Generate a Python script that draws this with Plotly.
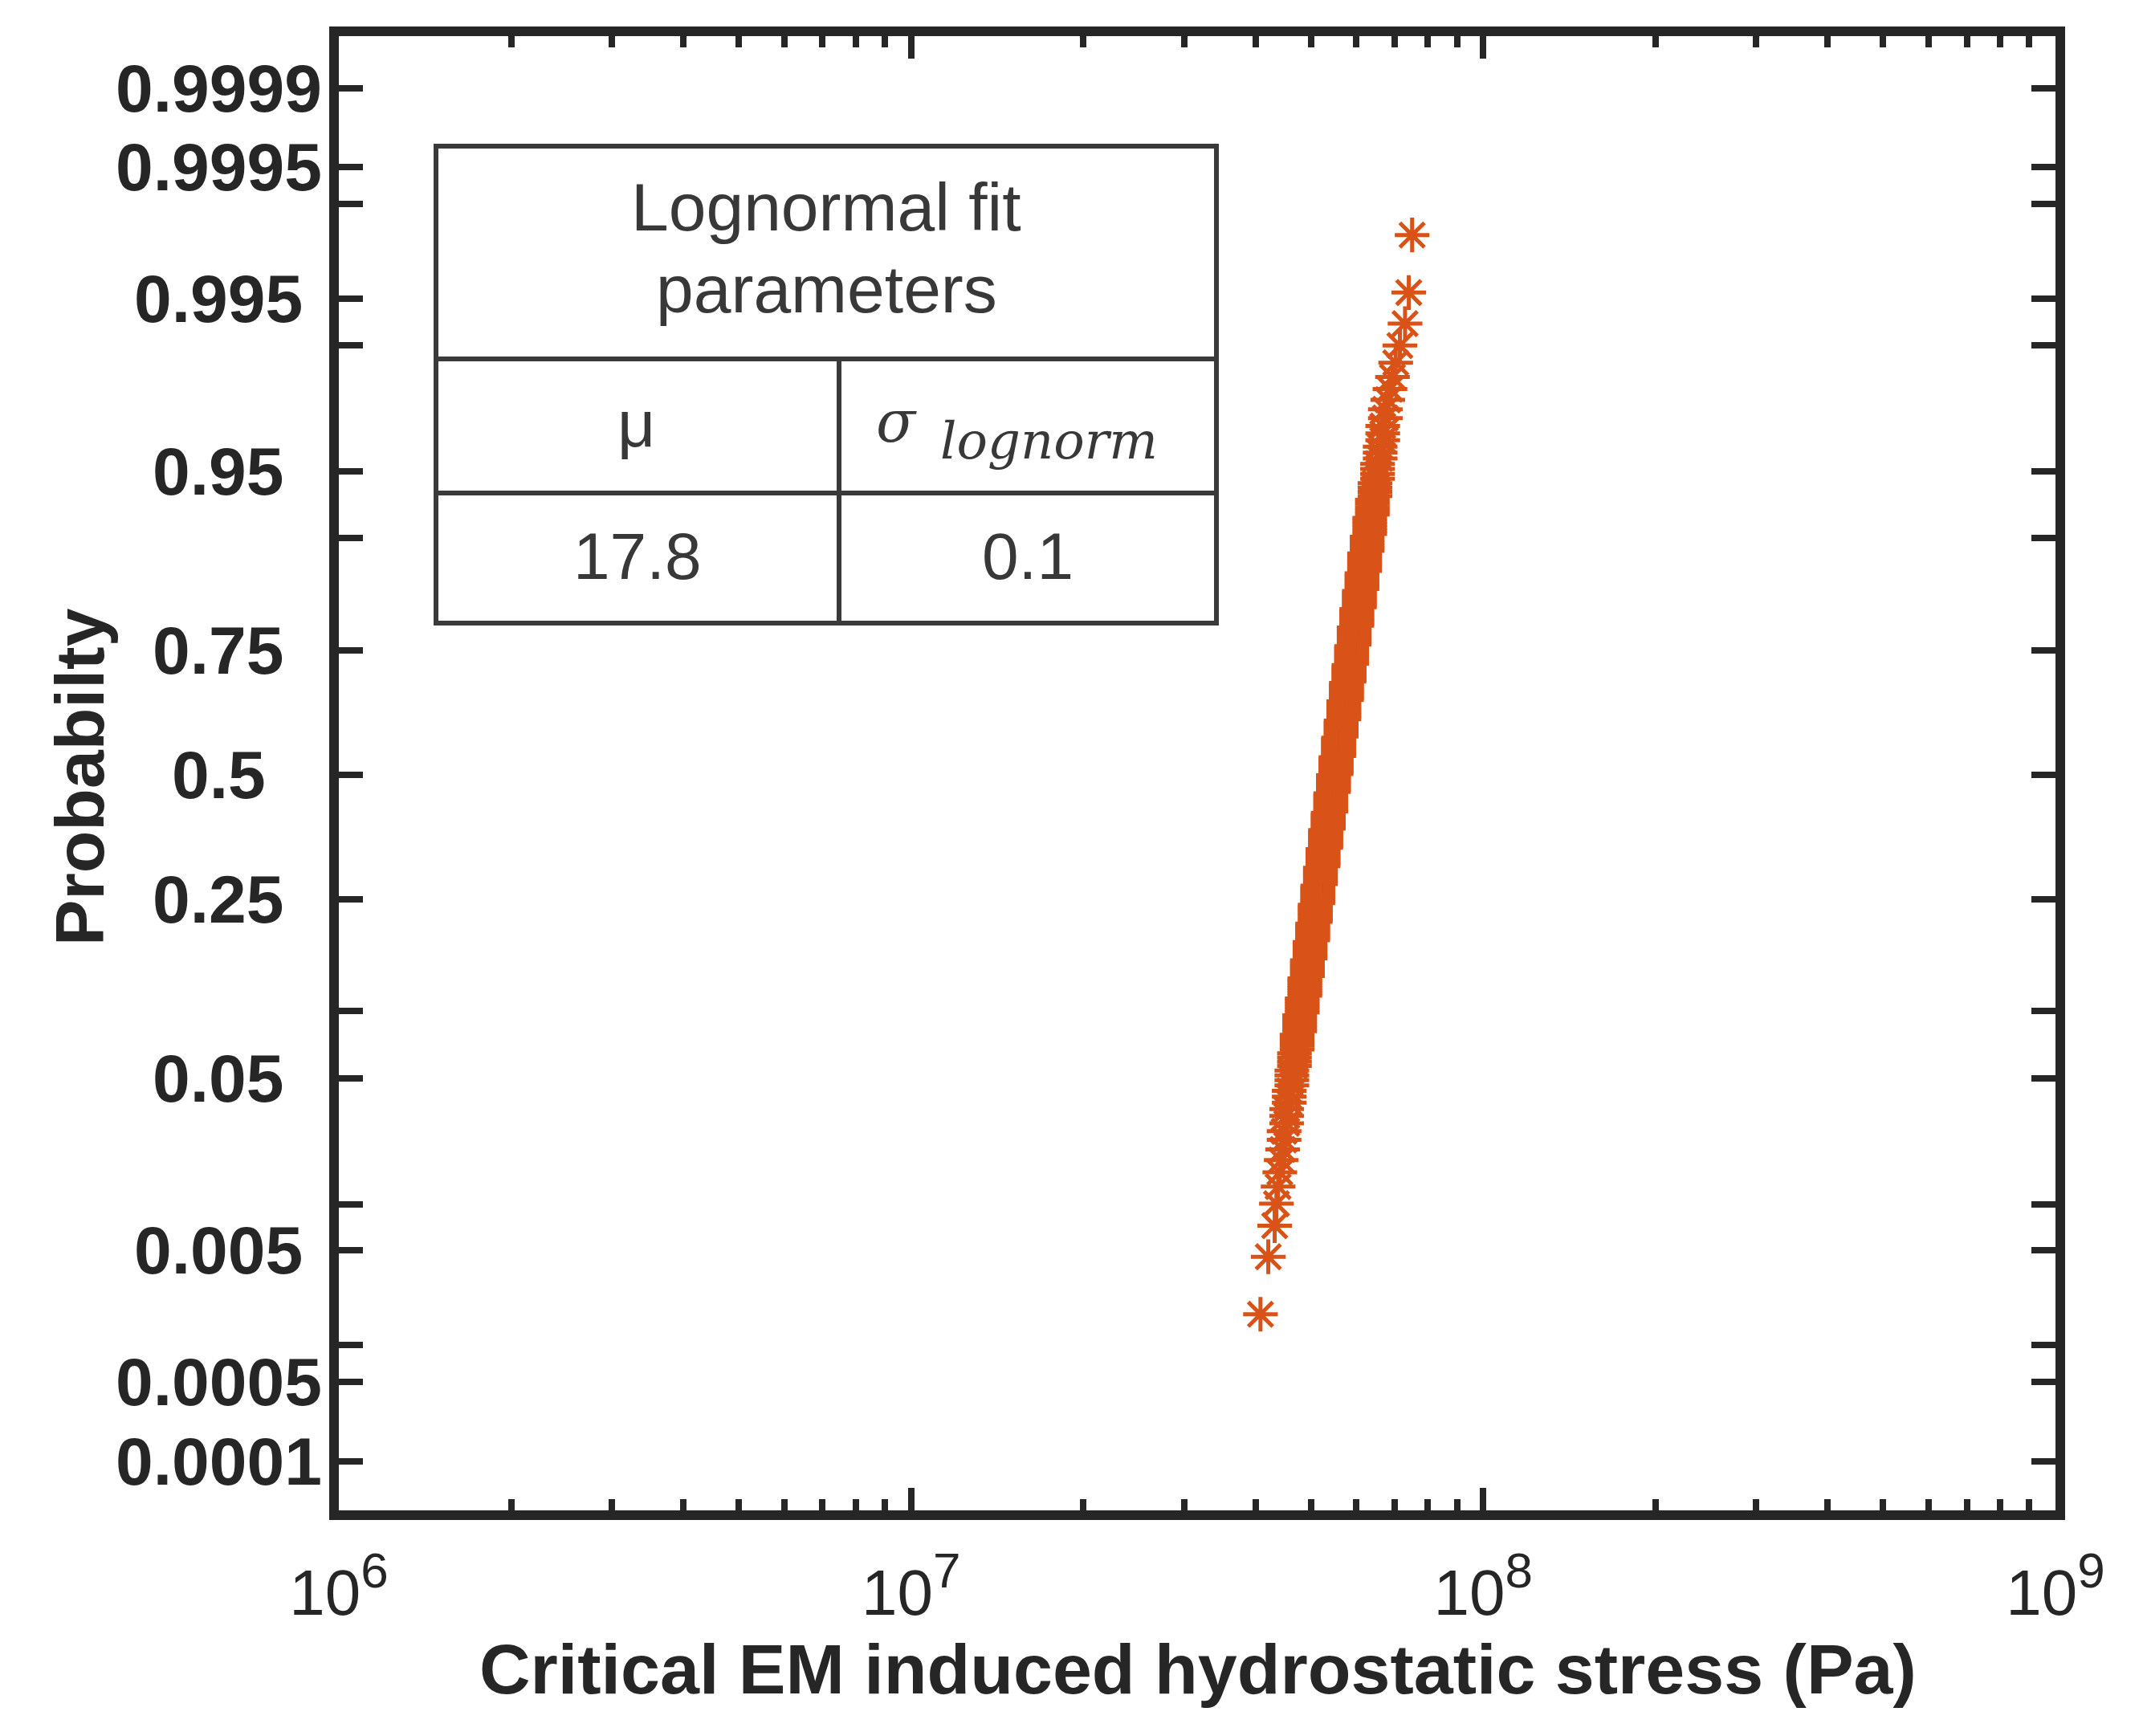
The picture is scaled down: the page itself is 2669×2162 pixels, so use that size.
import numpy as np
import plotly.graph_objects as go
from statistics import NormalDist

# ---------------- data ----------------
# critical EM induced hydrostatic stress, MPa, with number of samples at each value
stress_mpa = [40.8, 42.1, 43.2, 43.5, 43.8, 44.1, 44.35, 44.6,
              44.86, 45.34, 45.80, 46.29, 46.78, 47.27, 47.77, 48.26, 48.77, 49.28,
              49.80, 50.33, 50.86, 51.38, 51.93, 52.47, 53.03, 53.59, 54.14, 54.71,
              55.29, 55.87, 56.45, 57.05, 57.65, 58.26, 58.87, 59.48, 60.11, 60.74,
              61.38, 62.02, 62.67, 63.33, 64.00, 64.68, 65.35, 66.04, 66.73, 67.43,
              68.1, 68.7, 69.4, 70.3, 71.5, 73.0, 74.1, 75.1]
counts = [1, 1, 1, 1, 1, 1, 1, 1,
          2, 3, 3, 4, 4, 5, 6, 6, 8, 8,
          9, 10, 11, 12, 12, 13, 14, 13, 15, 14,
          14, 15, 13, 14, 13, 12, 12, 11, 10, 9,
          8, 8, 6, 6, 5, 4, 4, 3, 3, 2,
          1, 1, 1, 1, 1, 1, 1, 1]

prob_ticks = [0.0001, 0.0005, 0.001, 0.005, 0.01, 0.05, 0.1, 0.25, 0.5,
              0.75, 0.9, 0.95, 0.99, 0.995, 0.999, 0.9995, 0.9999]
prob_labeled = [0.0001, 0.0005, 0.005, 0.05, 0.25, 0.5, 0.75, 0.95, 0.995, 0.9995, 0.9999]
prob_labels = ["0.0001", "0.0005", "0.005", "0.05", "0.25", "0.5",
               "0.75", "0.95", "0.995", "0.9995", "0.9999"]
x_ticks = [1e6, 1e7, 1e8, 1e9]
x_exponents = ["6", "7", "8", "9"]
x_minor = [m * 10 ** e for e in (6, 7, 8) for m in range(2, 10)]

table_title = ["Lognormal fit", "parameters"]
table_head = ["μ", "σ", "lognorm"]
table_vals = ["17.8", "0.1"]

x_title = "Critical EM induced hydrostatic stress (Pa)"
y_title = "Probabilty"

# ---------------- probability-plot positions ----------------
nd = NormalDist()
samples = np.sort(np.repeat(np.array(stress_mpa) * 1e6, counts))
n = len(samples)
ranks = np.arange(1, n + 1)
pp = (ranks - 0.375) / (n + 0.25)
zz = [nd.inv_cdf(float(p)) for p in pp]
ytick_z = [nd.inv_cdf(p) for p in prob_ticks]
x_labels = ["10<sup><span style='font-size:62px'>%s</span></sup>" % e for e in x_exponents]

# ---------------- layout geometry ----------------
W, H = 2669, 2162
L, R, T, B = 414, 117, 37, 289
PX0, PX1 = L, W - R
PY0, PY1 = T, H - B


def px(x):
    return (x - PX0) / (PX1 - PX0)


def py(y):
    return (PY1 - y) / (PY1 - PY0)


AX = "#262626"
ORANGE = "#D95319"
TXT = "#383838"

fig = go.Figure()
fig.add_trace(go.Scatter(
    x=samples, y=zz, mode="markers",
    marker=dict(symbol="asterisk-open", size=36,
                line=dict(width=5, color=ORANGE), color=ORANGE),
    showlegend=False, hoverinfo="skip"))

fig.update_xaxes(
    type="log", range=[6, 9],
    showline=True, linewidth=12, linecolor=AX, mirror="ticks",
    ticks="inside", ticklen=28, tickwidth=8, tickcolor=AX,
    tickmode="array", tickvals=x_ticks, ticktext=x_labels,
    tickfont=dict(family="Liberation Sans", size=80, color=AX),
    ticklabelstandoff=22,
    minor=dict(tickmode="array", tickvals=x_minor, ticks="inside",
               ticklen=14, tickwidth=8, tickcolor=AX, showgrid=False),
    showgrid=False, zeroline=False)

fig.update_yaxes(
    range=[-3.985, 4.0],
    showline=True, linewidth=12, linecolor=AX, mirror="ticks",
    ticks="inside", ticklen=30, tickwidth=8, tickcolor=AX,
    tickmode="array", tickvals=ytick_z, showticklabels=False,
    showgrid=False, zeroline=False)

shapes = []


def hline(x0, x1, y, w=6):
    shapes.append(dict(type="line", xref="paper", yref="paper",
                       x0=px(x0), x1=px(x1), y0=py(y), y1=py(y),
                       line=dict(color="#3a3a3a", width=w)))


def vline(x, y0, y1, w=6):
    shapes.append(dict(type="line", xref="paper", yref="paper",
                       x0=px(x), x1=px(x), y0=py(y0), y1=py(y1),
                       line=dict(color="#3a3a3a", width=w)))


TL, TR, TT, TM1, TM2, TB, TD = 535, 1507, 174, 439, 606, 768, 1037
shapes.append(dict(type="rect", xref="paper", yref="paper",
                   x0=px(TL), x1=px(TR), y0=py(TB), y1=py(TT),
                   fillcolor="white", line=dict(width=0), layer="below"))
hline(TL - 3, TR + 3, TT)
hline(TL, TR, TM1)
hline(TL, TR, TM2)
hline(TL - 3, TR + 3, TB)
vline(TL, TT, TB)
vline(TR, TT, TB)
vline(TD, TM1, TB)

ann = []


def text(x, y, s, size, family="Liberation Sans", color=TXT, angle=0,
         weight="normal", style="normal", xanchor="center", yref="paper"):
    ann.append(dict(x=px(x), y=(py(y) if yref == "paper" else y),
                    xref="paper", yref=yref, text=s,
                    showarrow=False, textangle=angle, xanchor=xanchor,
                    yanchor="middle",
                    font=dict(family=family, size=size, color=color,
                              weight=weight, style=style)))


# y tick labels (centred under one another, as in the reference)
for p, lab in zip(prob_labeled, prob_labels):
    text(264, nd.inv_cdf(p), lab, 84, color=AX, weight="bold", yref="y")

text(1021, 250, table_title[0], 84)
text(1021, 352, table_title[1], 84)
text(784, 519, table_head[0], 82)
text(1108, 517, table_head[1], 72, family="DejaVu Serif", style="italic")
text(1298, 541, table_head[2], 64, family="DejaVu Serif", style="italic")
text(786, 685, table_vals[0], 82)
text(1272, 685, table_vals[1], 82)

text(91, 960, y_title, 86, color=AX, angle=-90, weight="bold")
text(1484, 2070, x_title, 88, color=AX, weight="bold")

fig.update_layout(
    width=W, height=H,
    margin=dict(l=L, r=R, t=T, b=B),
    paper_bgcolor="white", plot_bgcolor="white",
    shapes=shapes, annotations=ann, showlegend=False)

fig.write_html("out.html")
